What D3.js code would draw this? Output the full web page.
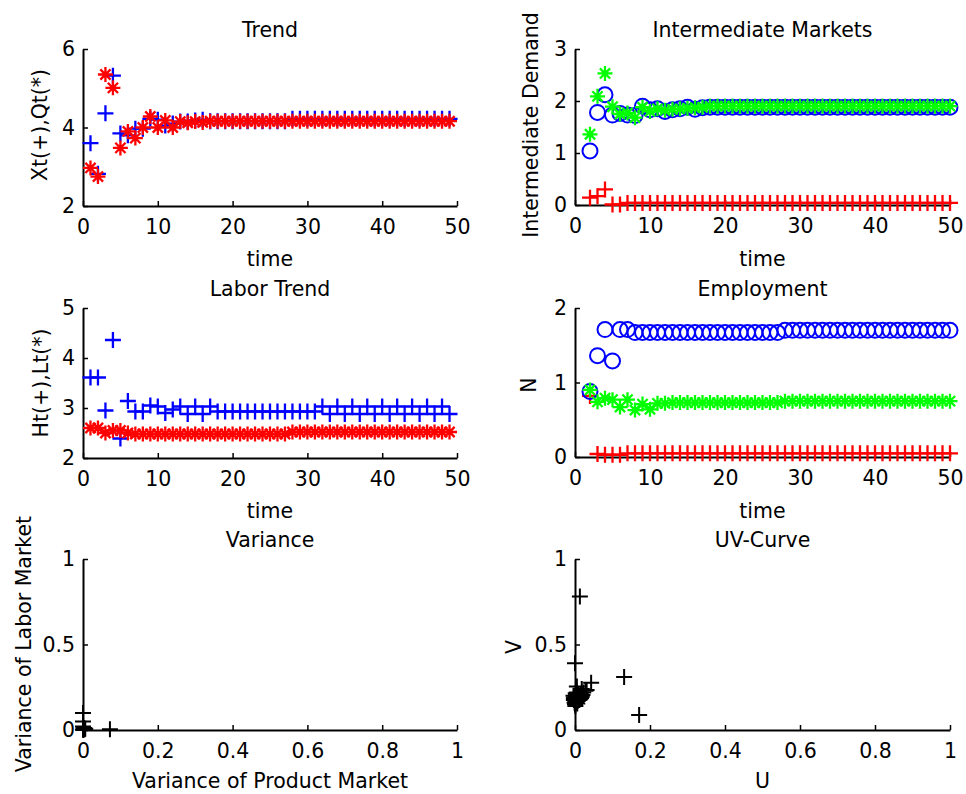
<!DOCTYPE html>
<html>
<head>
<meta charset="utf-8">
<script src="https://cdn.jsdelivr.net/npm/d3@7"></script>
<style>
  body { margin: 0; background: #fff; }
  svg text { font-family: "DejaVu Sans", sans-serif; fill: #000; }
</style>
</head>
<body>
<div id="chart"></div>
<script>
const width = 966;
const height = 794;

// Trend (t = 1..49)
const trend_time = d3.range(1, 50);
const trend_xt = [3.60, 2.82, 4.36, 5.32, 3.85, 3.80, 3.97, 3.97, 4.22, 4.20,
  4.05, 4.10, 4.15, 4.15, 4.18, 4.20, 4.16, 4.16, 4.16, 4.16,
  4.16, 4.16, 4.16, 4.16, 4.16, 4.16, 4.16, 4.22, 4.22, 4.22,
  4.22, 4.22, 4.22, 4.22, 4.22, 4.22, 4.22, 4.22, 4.22, 4.22,
  4.22, 4.22, 4.22, 4.22, 4.22, 4.22, 4.22, 4.22, 4.22];
const trend_qt = [2.97, 2.75, 5.35, 5.01, 3.48, 3.90, 3.73, 4.00, 4.28, 4.00,
  4.18, 4.00, 4.15, 4.12, 4.15, 4.13, 4.16, 4.16, 4.16, 4.16,
  4.16, 4.16, 4.16, 4.16, 4.16, 4.16, 4.16, 4.16, 4.16, 4.16,
  4.16, 4.16, 4.16, 4.16, 4.16, 4.16, 4.16, 4.16, 4.16, 4.16,
  4.16, 4.16, 4.16, 4.16, 4.16, 4.16, 4.16, 4.16, 4.16];

// Intermediate Markets (t = 2..50)
const market_time = d3.range(2, 51);
const market_red = [0.14, 0.17, 0.30, 0.01, 0.01, 0.04, 0.04, 0.04, 0.04, 0.04,
  0.04, 0.04, 0.04, 0.04, 0.04, 0.04, 0.04, 0.04, 0.04, 0.04,
  0.04, 0.04, 0.04, 0.04, 0.04, 0.04, 0.04, 0.04, 0.04, 0.04,
  0.04, 0.04, 0.04, 0.04, 0.04, 0.04, 0.04, 0.04, 0.04, 0.04,
  0.04, 0.04, 0.04, 0.04, 0.04, 0.04, 0.04, 0.04, 0.04];
const market_green = [1.36, 2.09, 2.53, 1.89, 1.75, 1.77, 1.68, 1.88, 1.80, 1.85,
  1.82, 1.84, 1.85, 1.86, 1.87, 1.88, 1.90, 1.90, 1.90, 1.90,
  1.90, 1.90, 1.90, 1.90, 1.90, 1.90, 1.90, 1.90, 1.90, 1.90,
  1.90, 1.90, 1.90, 1.90, 1.90, 1.90, 1.90, 1.90, 1.90, 1.90,
  1.90, 1.90, 1.90, 1.90, 1.90, 1.90, 1.90, 1.90, 1.90];
const market_blue = [1.04, 1.78, 2.12, 1.73, 1.76, 1.73, 1.72, 1.90, 1.83, 1.85,
  1.80, 1.83, 1.85, 1.88, 1.84, 1.87, 1.88, 1.88, 1.88, 1.88,
  1.88, 1.88, 1.88, 1.88, 1.88, 1.88, 1.88, 1.88, 1.88, 1.88,
  1.88, 1.88, 1.88, 1.88, 1.88, 1.88, 1.88, 1.88, 1.88, 1.88,
  1.88, 1.88, 1.88, 1.88, 1.88, 1.88, 1.88, 1.88, 1.88];

// Labor Trend (t = 1..49)
const labor_time = d3.range(1, 50);
const labor_ht = [3.61, 3.61, 2.95, 4.36, 2.39, 3.14, 2.93, 2.93, 3.05, 3.03,
  2.90, 2.97, 3.03, 2.88, 3.03, 2.88, 3.03, 2.93, 2.93, 2.93,
  2.93, 2.93, 2.93, 2.93, 2.93, 2.93, 2.93, 2.93, 2.93, 2.93,
  2.93, 3.03, 2.88, 3.03, 2.88, 3.03, 2.88, 3.03, 2.88, 3.03,
  2.88, 3.03, 2.88, 3.03, 2.88, 3.03, 2.88, 3.03, 2.88];
const labor_lt = [2.60, 2.60, 2.50, 2.55, 2.55, 2.50, 2.48, 2.48, 2.48, 2.48,
  2.48, 2.48, 2.48, 2.48, 2.48, 2.48, 2.48, 2.48, 2.48, 2.48,
  2.48, 2.48, 2.48, 2.48, 2.48, 2.48, 2.48, 2.52, 2.52, 2.52,
  2.52, 2.52, 2.52, 2.52, 2.52, 2.52, 2.52, 2.52, 2.52, 2.52,
  2.52, 2.52, 2.52, 2.52, 2.52, 2.52, 2.52, 2.52, 2.52];

// Employment (t = 2..50)
const employ_time = d3.range(2, 51);
const employ_red = [0.82, 0.04, 0.03, 0.03, 0.03, 0.05, 0.05, 0.05, 0.05, 0.05,
  0.05, 0.05, 0.05, 0.05, 0.05, 0.05, 0.05, 0.05, 0.05, 0.05,
  0.05, 0.05, 0.05, 0.05, 0.05, 0.05, 0.05, 0.05, 0.05, 0.05,
  0.05, 0.05, 0.05, 0.05, 0.05, 0.05, 0.05, 0.05, 0.05, 0.05,
  0.05, 0.05, 0.05, 0.05, 0.05, 0.05, 0.05, 0.05, 0.05];
const employ_blue = [0.88, 1.36, 1.71, 1.29, 1.71, 1.71, 1.67, 1.67, 1.67, 1.67,
  1.67, 1.67, 1.67, 1.67, 1.67, 1.67, 1.67, 1.67, 1.67, 1.67,
  1.67, 1.67, 1.67, 1.67, 1.67, 1.67, 1.70, 1.70, 1.70, 1.70,
  1.70, 1.70, 1.70, 1.70, 1.70, 1.70, 1.70, 1.70, 1.70, 1.70,
  1.70, 1.70, 1.70, 1.70, 1.70, 1.70, 1.70, 1.70, 1.70];
const employ_green = [0.90, 0.74, 0.79, 0.77, 0.67, 0.77, 0.63, 0.71, 0.64, 0.72,
  0.72, 0.73, 0.73, 0.73, 0.73, 0.73, 0.73, 0.73, 0.73, 0.73,
  0.73, 0.73, 0.73, 0.73, 0.73, 0.73, 0.75, 0.75, 0.75, 0.75,
  0.75, 0.75, 0.75, 0.75, 0.75, 0.75, 0.75, 0.75, 0.75, 0.75,
  0.75, 0.75, 0.75, 0.75, 0.75, 0.75, 0.75, 0.75, 0.75];

// Variance scatter
const var_product = [0.000, 0.000, 0.000, 0.002, 0.004, 0.072, 0.000, 0.001, 0.003, 0.006];
const var_labor = [0.100, 0.050, 0.020, 0.010, 0.005, 0.004, 0.003, 0.000, 0.012, 0.008];

// UV scatter
const uv_u = [0.013, 0.000, 0.131, 0.171, 0.043, 0.031, 0.018, 0.005,
  0.000, 0.002, -0.003, 0.004, 0.001, 0.006, 0.003, -0.002, 0.008,
  0.010, 0.012, 0.015, 0.018, 0.002, 0.000, 0.005, 0.022, 0.028,
  -0.004, -0.001, 0.004, 0.007, 0.009, 0.011, 0.001, 0.003, 0.006,
  -0.003, 0.002, 0.013, 0.016, 0.020];
const uv_v = [0.78, 0.39, 0.31, 0.088, 0.277, 0.234, 0.24, 0.254,
  0.18, 0.19, 0.175, 0.185, 0.17, 0.195, 0.20, 0.19, 0.18,
  0.19, 0.20, 0.21, 0.195, 0.16, 0.15, 0.22, 0.22, 0.23,
  0.20, 0.16, 0.165, 0.17, 0.205, 0.175, 0.14, 0.21, 0.155,
  0.185, 0.215, 0.18, 0.185, 0.205];

// tick labels
const time_ticks = [0, 10, 20, 30, 40, 50];
const unit_ticks = [0, 0.2, 0.4, 0.6, 0.8, 1];
const unit_tick_labels = ["0", "0.2", "0.4", "0.6", "0.8", "1"];
const half_ticks = [0, 0.5, 1];
const half_tick_labels = ["0", "0.5", "1"];

const blue = "#0000ff", red = "#ff0000", green = "#00ff00", black = "#000000";

const svg = d3.select('#chart')
  .append('svg')
    .attr('width', width)
    .attr('height', height)
    .style('background', '#fff');

const plus_path = s => `M${-s},0H${s}M0,${-s}V${s}`;
const star_path = s => {
  const d = s * 0.68;
  return plus_path(s) + `M${-d},${-d}L${d},${d}M${-d},${d}L${d},${-d}`;
};

let make_panel = p => {
  const x = d3.scaleLinear().domain(p.x_domain).range([p.left, p.right]);
  const y = d3.scaleLinear().domain(p.y_domain).range([p.bottom, p.top]);
  const g = svg.append('g');

  const x_axis = g.append('g')
    .attr('transform', `translate(0,${p.bottom})`)
    .call(d3.axisBottom(x)
      .tickValues(p.x_ticks)
      .tickFormat((d, i) => p.x_labels ? p.x_labels[i] : d)
      .tickSizeInner(-5)
      .tickSizeOuter(0)
      .tickPadding(13));
  const y_axis = g.append('g')
    .attr('transform', `translate(${p.left},0)`)
    .call(d3.axisLeft(y)
      .tickValues(p.y_ticks)
      .tickFormat((d, i) => p.y_labels ? p.y_labels[i] : d)
      .tickSizeInner(-5)
      .tickSizeOuter(0)
      .tickPadding(8));
  [x_axis, y_axis].forEach(a => {
    a.attr('font-family', null).attr('font-size', null);
    a.select('.domain').attr('stroke', '#000').attr('stroke-width', 2);
    a.selectAll('.tick line').attr('stroke', '#000').attr('stroke-width', 1.5);
    a.selectAll('.tick text').style('font-size', '20.5px');
  });

  // title
  g.append('text')
    .attr('x', (p.left + p.right) / 2)
    .attr('y', p.top - 12)
    .attr('text-anchor', 'middle')
    .style('font-size', '20.5px')
    .text(p.title);
  // x label
  g.append('text')
    .attr('x', (p.left + p.right) / 2)
    .attr('y', p.bottom + p.x_label_dy)
    .attr('text-anchor', 'middle')
    .style('font-size', '20.5px')
    .text(p.x_label);
  // y label
  g.append('text')
    .attr('transform', `translate(${p.y_label_pos[0]},${p.y_label_pos[1]}) rotate(-90)`)
    .attr('text-anchor', 'middle')
    .attr('dy', '0.35em')
    .style('font-size', '20.5px')
    .text(p.y_label);

  p.series.forEach(s => {
    const pts = s.xs.map((d, i) => [d, s.ys[i]]);
    if (s.shape === 'o') {
      g.append('g').selectAll('circle')
          .data(pts)
        .join('circle')
          .attr('cx', d => x(d[0]))
          .attr('cy', d => y(d[1]))
          .attr('r', 7.5)
          .attr('fill', 'none')
          .attr('stroke', s.color)
          .attr('stroke-width', 2);
    } else {
      const path = s.shape === '*' ? star_path(7.5) : plus_path(8);
      g.append('g').selectAll('path')
          .data(pts)
        .join('path')
          .attr('transform', d => `translate(${x(d[0])},${y(d[1])})`)
          .attr('d', path)
          .attr('fill', 'none')
          .attr('stroke', s.color)
          .attr('stroke-width', s.width || 2.3);
    }
  });
};

const panels = [
  { title: 'Trend', left: 83, right: 457, top: 49, bottom: 206,
    x_domain: [0, 50], y_domain: [2, 6], x_ticks: time_ticks, y_ticks: [2, 4, 6],
    x_label: 'time', x_label_dy: 60, y_label: 'Xt(+),Qt(*)', y_label_pos: [40, 125],
    series: [
      { xs: trend_time, ys: trend_xt, shape: '+', color: blue },
      { xs: trend_time, ys: trend_qt, shape: '*', color: red }
    ] },
  { title: 'Intermediate Markets', left: 575, right: 950, top: 49, bottom: 205,
    x_domain: [0, 50], y_domain: [0, 3], x_ticks: time_ticks, y_ticks: [0, 1, 2, 3],
    x_label: 'time', x_label_dy: 61, y_label: 'Intermediate Demand', y_label_pos: [531, 125],
    series: [
      { xs: market_time, ys: market_red, shape: '+', color: red },
      { xs: market_time, ys: market_blue, shape: 'o', color: blue },
      { xs: market_time, ys: market_green, shape: '*', color: green }
    ] },
  { title: 'Labor Trend', left: 83, right: 457, top: 308, bottom: 458,
    x_domain: [0, 50], y_domain: [2, 5], x_ticks: time_ticks, y_ticks: [2, 3, 4, 5],
    x_label: 'time', x_label_dy: 60, y_label: 'Ht(+),Lt(*)', y_label_pos: [41, 383],
    series: [
      { xs: labor_time, ys: labor_ht, shape: '+', color: blue },
      { xs: labor_time, ys: labor_lt, shape: '*', color: red }
    ] },
  { title: 'Employment', left: 575, right: 950, top: 308, bottom: 457,
    x_domain: [0, 50], y_domain: [0, 2], x_ticks: time_ticks, y_ticks: [0, 1, 2],
    x_label: 'time', x_label_dy: 61, y_label: 'N', y_label_pos: [529, 385],
    series: [
      { xs: employ_time, ys: employ_red, shape: '+', color: red },
      { xs: employ_time, ys: employ_blue, shape: 'o', color: blue },
      { xs: employ_time, ys: employ_green, shape: '*', color: green }
    ] },
  { title: 'Variance', left: 83, right: 457, top: 559, bottom: 730,
    x_domain: [0, 1], y_domain: [0, 1], x_ticks: unit_ticks, x_labels: unit_tick_labels,
    y_ticks: half_ticks, y_labels: half_tick_labels,
    x_label: 'Variance of Product Market', x_label_dy: 58,
    y_label: 'Variance of Labor Market', y_label_pos: [24, 644],
    series: [
      { xs: var_product, ys: var_labor, shape: '+', color: black, width: 2 }
    ] },
  { title: 'UV-Curve', left: 575, right: 950, top: 559, bottom: 730,
    x_domain: [0, 1], y_domain: [0, 1], x_ticks: unit_ticks, x_labels: unit_tick_labels,
    y_ticks: half_ticks, y_labels: half_tick_labels,
    x_label: 'U', x_label_dy: 58, y_label: 'V', y_label_pos: [514, 647],
    series: [
      { xs: uv_u, ys: uv_v, shape: '+', color: black, width: 2 }
    ] }
];

panels.forEach(make_panel);
</script>
</body>
</html>
